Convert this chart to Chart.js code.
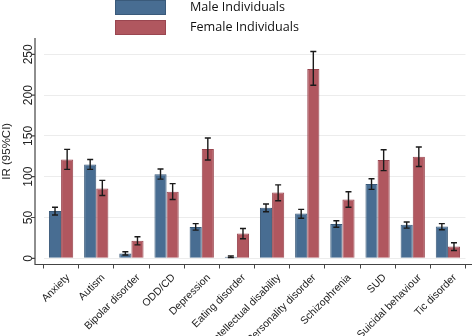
<!DOCTYPE html>
<html>
<head>
<meta charset="utf-8">
<script src="https://cdn.jsdelivr.net/npm/chart.js@4.4.1/dist/chart.umd.min.js"></script>
<style>
    html, body { margin: 0; padding: 0; background: #fff; }
    #wrap { position: relative; width: 474px; height: 336px; overflow: hidden; }
    #irChart { position: absolute; left: 0; top: 0; }
    .legend { position: absolute; left: 115px; font-family: "Open Sans", "Liberation Sans", sans-serif; font-size: 12.6px; color: #111; }
    .legend .row { position: absolute; left: 0; height: 15px; width: 260px; }
    .legend .box { position: absolute; left: 0; top: 0; width: 51px; height: 15px; box-sizing: border-box; }
    .legend .txt { position: absolute; left: 75px; top: -2px; white-space: nowrap; }
</style>
</head>
<body>
<div id="wrap">
    <canvas id="irChart" width="474" height="336"></canvas>
    <div class="legend">
        <div class="row" style="top:0px"><div class="box" style="background:#486d92;border:1px solid #3a5a7a"></div><div class="txt">Male Individuals</div></div>
        <div class="row" style="top:20px"><div class="box" style="background:#b0575f;border:1px solid #9a4650"></div><div class="txt">Female Individuals</div></div>
    </div>
</div>
<script>
// ===== 数据 =====
const disorders = ['Anxiety', 'Autism', 'Bipolar disorder', 'ODD/CD', 'Depression', 'Eating disorder',
    'Intellectual disability', 'Personality disorder', 'Schizophrenia', 'SUD', 'Suicidal behaviour', 'Tic disorder'];

const maleIR   = [58, 115, 6, 103, 38.5, 2, 62, 55, 42, 91, 41, 39];
const maleLow  = [53, 109, 4, 97, 34.5, 1, 57, 49, 38, 84.5, 37, 35];
const maleHigh = [62.5, 121, 8, 109.5, 42.5, 3, 66.5, 60, 46, 97.5, 44.5, 42.5];

const femaleIR   = [121, 85.5, 21.5, 81.5, 134, 30.5, 80.5, 232, 72, 120.5, 124.5, 14.5];
const femaleLow  = [109, 77, 16.5, 72, 120.5, 24, 70.5, 212, 62.5, 107.5, 112.5, 9.5];
const femaleHigh = [133.5, 95.5, 26.5, 91.5, 147.5, 36.5, 90, 253.5, 81.5, 133, 136.5, 19];

const yTicks = [0, 50, 100, 150, 200, 250];

// ===== 误差线 + 坐标轴线 =====
const errorBars = {
    id: 'errorBars',
    afterDatasetsDraw(chart) {
        const ctx = chart.ctx;
        const y = chart.scales.y;
        const ranges = [[maleLow, maleHigh], [femaleLow, femaleHigh]];
        ctx.save();
        ctx.strokeStyle = '#1a1a1a';
        ctx.lineWidth = 1.4;
        ranges.forEach((r, di) => {
            chart.getDatasetMeta(di).data.forEach((bar, i) => {
                const top = y.getPixelForValue(r[1][i]);
                const bot = y.getPixelForValue(r[0][i]);
                ctx.beginPath();
                ctx.moveTo(bar.x, top); ctx.lineTo(bar.x, bot);
                ctx.moveTo(bar.x - 3, top); ctx.lineTo(bar.x + 3, top);
                ctx.moveTo(bar.x - 3, bot); ctx.lineTo(bar.x + 3, bot);
                ctx.stroke();
            });
        });
        ctx.restore();
    },
    afterDraw(chart) {
        const ctx = chart.ctx;
        const a = chart.chartArea;
        const y = chart.scales.y;
        const axisX = a.left - 8.5;
        ctx.save();
        ctx.strokeStyle = '#444';
        ctx.lineWidth = 1.2;
        ctx.beginPath();
        ctx.moveTo(axisX, a.top); ctx.lineTo(axisX, a.bottom);
        ctx.lineTo(472, a.bottom);
        yTicks.forEach(v => {
            const py = y.getPixelForValue(v);
            ctx.moveTo(axisX - 4, py); ctx.lineTo(axisX, py);
        });
        ctx.stroke();
        ctx.restore();
    }
};

const ctx = document.getElementById('irChart').getContext('2d');

const irChart = new Chart(ctx, {
    type: 'bar',
    data: {
        labels: disorders,
        datasets: [
            {
                label: 'Male Individuals',
                data: maleIR,
                backgroundColor: '#486d92',
                borderColor: '#3a5a7a',
                borderWidth: 1,
                categoryPercentage: 0.69,
                barPercentage: 1
            },
            {
                label: 'Female Individuals',
                data: femaleIR,
                backgroundColor: '#b0575f',
                borderColor: '#9a4650',
                borderWidth: 1,
                categoryPercentage: 0.69,
                barPercentage: 1
            }
        ]
    },
    options: {
        responsive: false,
        animation: false,
        layout: { padding: { top: 38, right: 8.5, left: 0, bottom: 0 } },
        plugins: {
            legend: { display: false },
            tooltip: { enabled: false }
        },
        scales: {
            x: {
                afterFit(scale) { scale.height = 71.5; },
                border: { display: false },
                grid: { offset: true, drawOnChartArea: false, drawTicks: true, tickLength: 4, color: '#444', lineWidth: 1 },
                ticks: {
                    minRotation: 45, maxRotation: 45,
                    labelOffset: 7,
                    padding: 3,
                    color: '#222',
                    font: { family: 'Liberation Sans, Arial, sans-serif', size: 10.5 }
                }
            },
            y: {
                min: -7.6,
                max: 270,
                afterFit(scale) { scale.width = 43.5; },
                afterBuildTicks(scale) { scale.ticks = yTicks.map(v => ({ value: v })); },
                border: { display: false },
                grid: { drawTicks: false, color: '#ececec', lineWidth: 1 },
                ticks: {
                    minRotation: 90,
                    crossAlign: 'center',
                    padding: 5,
                    color: '#222',
                    font: { family: 'Liberation Sans, Arial, sans-serif', size: 12 }
                },
                title: {
                    display: true,
                    text: 'IR (95%CI)',
                    padding: 0,
                    color: '#222',
                    font: { family: 'Liberation Sans, Arial, sans-serif', size: 11.5 }
                }
            }
        }
    },
    plugins: [errorBars]
});
</script>
</body>
</html>
